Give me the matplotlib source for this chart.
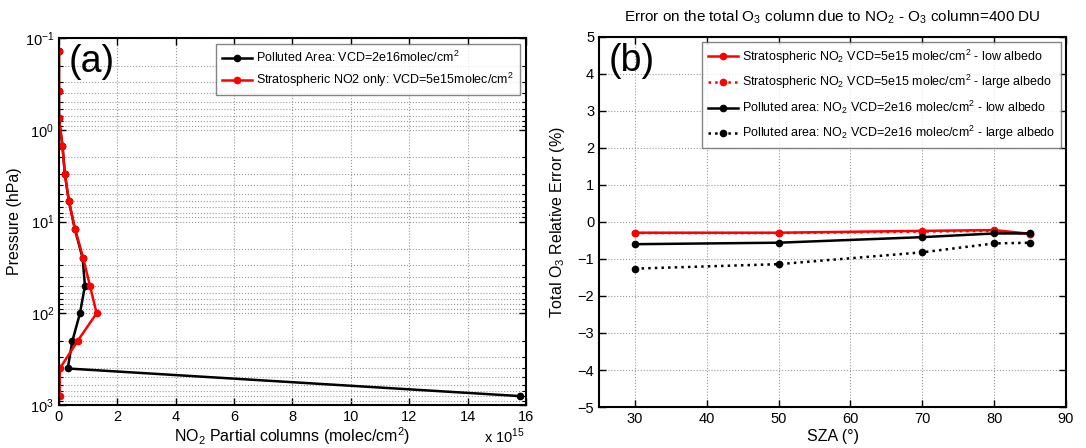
import matplotlib
matplotlib.use("Agg")
import matplotlib.pyplot as plt
import numpy as np
from matplotlib.ticker import LogLocator, NullFormatter

plt.rcParams['font.family'] = ['Liberation Sans', 'DejaVu Sans']
plt.rcParams['mathtext.fontset'] = 'custom'
plt.rcParams['mathtext.rm'] = 'Liberation Sans'

# ---- Panel (a) data: NO2 partial columns (x 1e15 molec/cm2) vs pressure (hPa)
pressure = [0.14, 0.38, 0.75, 1.5, 3.0, 6.0, 12.0, 25.0, 50.0, 100.0, 200.0, 400.0, 800.0]
polluted_pc = [0.0, 0.0, 0.0, 0.12, 0.2, 0.34, 0.54, 0.81, 0.89, 0.72, 0.46, 0.30, 15.8]
strato_pc = [0.0, 0.0, 0.0, 0.12, 0.2, 0.34, 0.55, 0.83, 1.06, 1.29, 0.64, 0.03, 0.02]

# ---- Panel (b) data: total O3 relative error (%) vs SZA
sza = [30, 50, 70, 80, 85]
strat_low = [-0.29, -0.29, -0.24, -0.22, -0.32]
strat_large = [-0.30, -0.30, -0.26, -0.24, -0.33]
poll_low = [-0.60, -0.56, -0.41, -0.31, -0.31]
poll_large = [-1.26, -1.14, -0.82, -0.58, -0.56]

fig = plt.figure(figsize=(10.86, 4.48), dpi=100)
ax1 = fig.add_axes([0.0543, 0.096, 0.430, 0.819])
ax2 = fig.add_axes([0.5516, 0.0915, 0.430, 0.826])

FS = 10.5
gridkw = dict(color='#999999', linestyle=':', linewidth=0.8)

# ---------- Panel (a)
ax1.plot(polluted_pc, pressure, '-o', color='black', lw=1.8, ms=4.5,
         label='Polluted Area: VCD=2e16molec/cm$^2$')
ax1.plot(strato_pc, pressure, '-o', color='red', lw=1.8, ms=4.5,
         label='Stratospheric NO2 only: VCD=5e15molec/cm$^2$')
ax1.set_yscale('log')
ax1.set_ylim(1000, 0.1)
ax1.set_xlim(0, 16)
ax1.set_xticks(np.arange(0, 17, 2))
ax1.yaxis.set_major_locator(LogLocator(base=10, numticks=10))
ax1.yaxis.set_minor_locator(LogLocator(base=10, subs=np.arange(2, 10), numticks=20))
ax1.yaxis.set_minor_formatter(NullFormatter())
ax1.grid(True, which='major', **gridkw)
ax1.grid(True, which='minor', axis='y', **gridkw)
ax1.tick_params(which='both', direction='in', top=True, right=True, labelsize=FS)
ax1.tick_params(which='major', length=5, width=1)
ax1.tick_params(which='minor', length=3, width=0.8)
ax1.set_ylabel('Pressure (hPa)', fontsize=11.5)
ax1.yaxis.set_label_coords(-0.079, 0.5)
ax1.set_xlabel('NO$_2$ Partial columns (molec/cm$^2$)', fontsize=11.5, labelpad=1)
fig.text(525 / 1086, 1 - 443 / 448, r'x 10$^{15}$', ha='right', va='baseline', fontsize=FS)
ax1.text(0.02, 0.985, '(a)', transform=ax1.transAxes, ha='left', va='top', fontsize=27)
leg1 = ax1.legend(loc='upper right', fontsize=9, frameon=True, fancybox=False,
                  edgecolor='#666666', handlelength=2.4, borderaxespad=0.5,
                  labelspacing=0.45, handletextpad=0.35, borderpad=0.45)
leg1.get_frame().set_linewidth(1.0)
for sp in ax1.spines.values():
    sp.set_linewidth(1.5)

# ---------- Panel (b)
ax2.plot(sza, strat_low, '-o', color='red', lw=1.8, ms=4.5,
         label='Stratospheric NO$_2$ VCD=5e15 molec/cm$^2$ - low albedo')
ax2.plot(sza, strat_large, ':o', color='red', lw=1.8, ms=4.5,
         label='Stratospheric NO$_2$ VCD=5e15 molec/cm$^2$ - large albedo')
ax2.plot(sza, poll_low, '-o', color='black', lw=1.8, ms=4.5,
         label='Polluted area: NO$_2$ VCD=2e16 molec/cm$^2$ - low albedo')
ax2.plot(sza, poll_large, ':o', color='black', lw=1.8, ms=4.5,
         label='Polluted area: NO$_2$ VCD=2e16 molec/cm$^2$ - large albedo')
ax2.set_xlim(25, 90)
ax2.set_ylim(-5, 5)
ax2.set_xticks(np.arange(30, 91, 10))
ax2.set_yticks(np.arange(-5, 6, 1))
ax2.grid(True, **gridkw)
ax2.tick_params(direction='in', top=True, right=True, labelsize=FS, length=5, width=1)
ax2.set_ylabel('Total O$_3$ Relative Error (%)', fontsize=11.5)
ax2.yaxis.set_label_coords(-0.0685, 0.5)
ax2.set_xlabel('SZA (°)', fontsize=11.5, labelpad=2)
ax2.set_title('Error on the total O$_3$ column due to NO$_2$ - O$_3$ column=400 DU',
              fontsize=11, pad=11)
ax2.text(0.02, 0.985, '(b)', transform=ax2.transAxes, ha='left', va='top', fontsize=27)
leg2 = ax2.legend(loc='upper right', fontsize=9, frameon=True, fancybox=False,
                  edgecolor='#666666', handlelength=2.4, borderaxespad=0.4,
                  labelspacing=0.6, handletextpad=0.35, borderpad=0.45)
leg2.get_frame().set_linewidth(1.0)
for sp in ax2.spines.values():
    sp.set_linewidth(1.5)

fig.savefig('out.png', dpi=100)
